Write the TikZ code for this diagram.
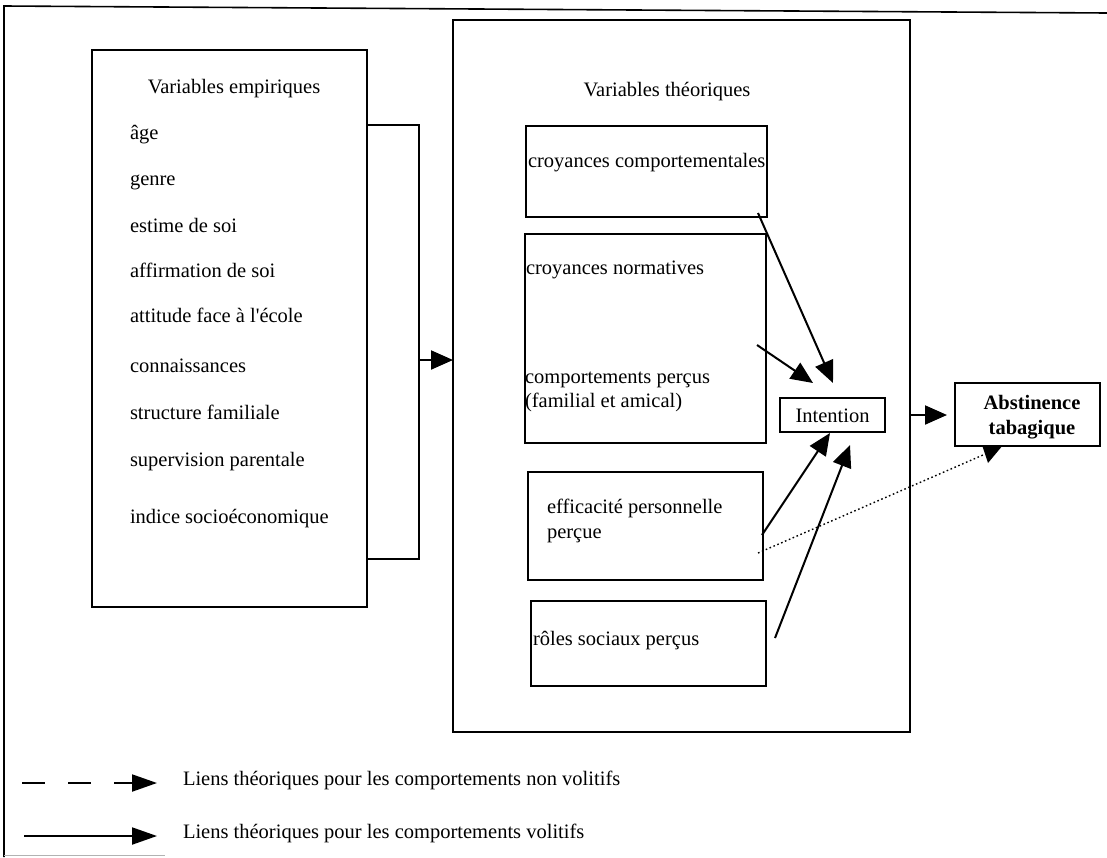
\documentclass[tikz,border=0pt]{standalone}
\usepackage{fontspec}
\setmainfont{Liberation Serif}
\usetikzlibrary{arrows.meta}
\begin{document}
\begin{tikzpicture}[x=1pt,y=-1pt,
  every node/.style={inner sep=0pt,outer sep=0pt},
  box/.style 2 args={draw,line width=2.2pt,rectangle,minimum width=#1pt,minimum height=#2pt},
  lbl/.style={font=\fontsize{20.5}{24.6}\selectfont,anchor=mid west,align=left},
  para/.style={font=\fontsize{20.5}{24.6}\selectfont,anchor=west,align=left},
  ctr/.style={font=\fontsize{20.5}{24.6}\selectfont,anchor=center,align=center},
  link/.style={line width=2pt,-{Triangle[length=22pt,width=19pt]}},
  wire/.style={line width=2pt},
  weak/.style={line width=1.4pt,dash pattern=on 1.6pt off 2.6pt},
  keylink/.style={line width=2pt,-{Triangle[length=25pt,width=17pt]}}
]
\useasboundingbox (0,0) rectangle (1107,857);

% outer frame (top and left sides)
\draw[line width=1.6pt] (4,857) -- (4,6) -- (1107,13);
\draw[line width=1pt,gray!60] (4,855) -- (165,855);

% empirical variables
\node[box={275}{557}] (emp) at (229.5,328.5) {};
\node[ctr] (empT) at (234,89) {Variables empiriques};
\node[lbl] (e1) at (130,137) {âge};
\node[lbl] (e2) at (130,183) {genre};
\node[lbl] (e3) at (130,230) {estime de soi};
\node[lbl] (e4) at (130,275) {affirmation de soi};
\node[lbl] (e5) at (130,320) {attitude face à l\textquotesingle école};
\node[lbl] (e6) at (130,370) {connaissances};
\node[lbl] (e7) at (130,417) {structure familiale};
\node[lbl] (e8) at (130,464) {supervision parentale};
\node[lbl] (e9) at (130,521) {indice socioéconomique};

% theoretical variables
\node[box={457}{712}] (theo) at (681.5,376) {};
\node[ctr] (theoT) at (667,92) {Variables théoriques};
\node[box={241}{91}] (cc) at (646.5,171.5) {};
\node[lbl] (ccT) at (528,165) {croyances comportementales};
\node[box={241}{209}] (cn) at (645.5,338.5) {};
\node[lbl] (cnT) at (526,272) {croyances normatives};
\node[para] (cpT) at (525,392) {comportements perçus\\(familial et amical)};
\node[box={235}{108}] (ep) at (645.5,526) {};
\node[para] (epT) at (547,521) {efficacité personnelle\\perçue};
\node[box={235}{85}] (rs) at (648.5,643.5) {};
\node[lbl] (rsT) at (533,643) {rôles sociaux perçus};

% intention and outcome
\node[box={105}{34}] (int) at (832.5,415) {};
\node[ctr] (intT) at (832.5,416) {Intention};
\node[box={145}{63}] (abs) at (1027.5,414.5) {};
\node[ctr,font=\fontsize{20.5}{24.6}\selectfont\bfseries] (absT) at (1032,417) {Abstinence\\tabagique};

% bracket from the empirical box into the theoretical box
\coordinate (brTop) at (419,125);
\coordinate (brBot) at (419,559);
\coordinate (brMid) at (419,360);
\draw[wire] (emp.east |- brTop) -- (brTop) -- (brBot) -- (emp.east |- brBot);
\draw[link] (brMid) -- (theo.west |- brMid);

% links towards intention
\coordinate (tA) at (833,383);
\coordinate (tB) at (813,383);
\coordinate (tC) at (830,433);
\coordinate (tD) at (850,445);
\draw[link] ([xshift=-9pt,yshift=4pt]cc.south east) -- (tA);
\draw[link] ([xshift=-9pt]cn.east |- 0,345) -- (tB);
\draw[link] ([xshift=-1pt]ep.east |- 0,535) -- (tC);
\draw[link] ([xshift=9pt]rs.east |- 0,638) -- (tD);

% intention to abstinence
\draw[link,shorten >=8pt] (theo.east |- int) -- (abs.west |- int);

% non-volitional link
\coordinate (dEnd) at (983,455);
\draw[weak] ([xshift=-5pt]ep.east |- 0,553) -- (dEnd);
\fill (982,445) -- (1003,445) -- (988,463) -- cycle;

% key
\coordinate (k1a) at (22,783);
\coordinate (k1b) at (157,783);
\coordinate (k2a) at (24,836);
\coordinate (k2b) at (157,836);
\draw[keylink,dash pattern=on 23pt off 23pt] (k1a) -- (k1b);
\draw[keylink] (k2a) -- (k2b);
\node[lbl] (k1T) at (183,783) {Liens théoriques pour les comportements non volitifs};
\node[lbl] (k2T) at (183,836) {Liens théoriques pour les comportements volitifs};
\end{tikzpicture}
\end{document}
